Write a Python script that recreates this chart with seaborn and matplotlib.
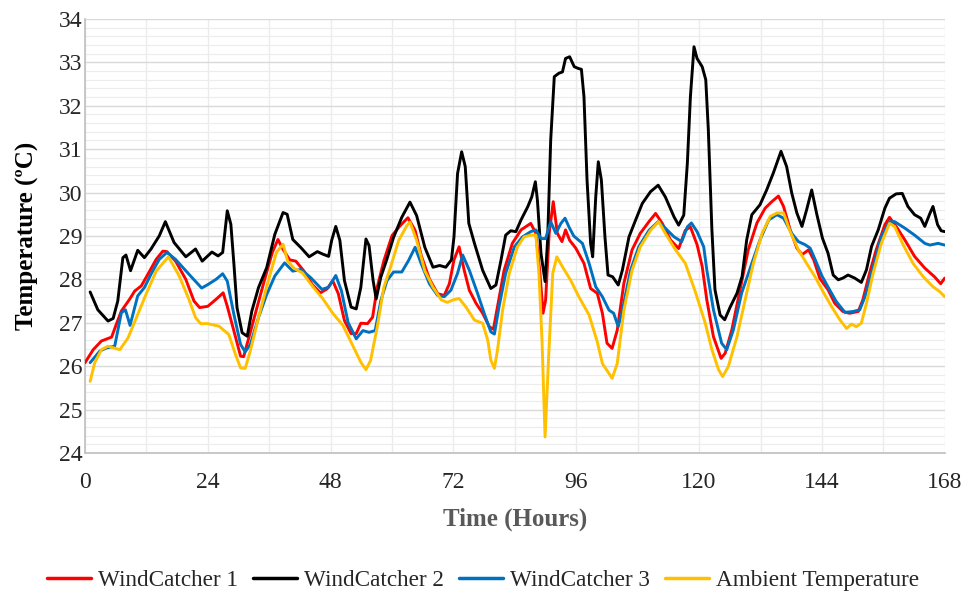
import numpy as np
import pandas as pd
import matplotlib
matplotlib.use("Agg")
import matplotlib.pyplot as plt
from matplotlib.lines import Line2D
import seaborn as sns

# Hourly temperature readings (hour, °C) for each monitored series
w1_hours = [0, 1.6, 3.2, 5.2, 6.1, 7.1, 8.7, 9.7, 11.0, 12.3, 13.9, 15.2, 16.0, 17.7, 19.7, 21.3,
            22.4, 24.0, 25.6, 27.0, 27.8, 29.1, 30.4, 31.0, 32.0, 33.6, 35.2, 36.6, 37.7, 38.7, 40.0,
            41.2, 42.8, 44.4, 46.0, 47.3, 48.4, 49.5, 50.7, 52.0, 53.0, 53.9, 55.2, 56.2, 57.1, 58.4,
            60.0, 61.6, 63.1, 64.5, 65.7, 67.3, 68.9, 70.2, 71.2, 72.1, 73.1, 74.1, 75.1, 76.4, 77.7,
            79.0, 79.8, 80.6, 81.9, 83.5, 85.2, 87.1, 88.1, 88.9, 89.5, 90.0, 90.7, 91.5, 92.3, 93.2,
            93.9, 94.7, 95.9, 97.5, 98.8, 100.1, 101.1, 102.0, 103.0, 104.0, 105.3, 106.9, 108.5,
            110.2, 111.5, 112.8, 114.4, 116.0, 117.3, 118.3, 119.6, 120.6, 121.5, 122.8, 124.3, 125.1,
            126.4, 128.0, 129.6, 131.3, 132.9, 134.2, 135.5, 136.5, 137.8, 139.1, 140.1, 141.4, 142.4,
            143.6, 145.2, 146.5, 148.1, 149.4, 151.1, 152.0, 153.3, 154.6, 156.3, 157.2, 158.5, 160.2,
            162.1, 164.1, 166.0, 167.2, 168]
w1_temp = [26.08, 26.38, 26.58, 26.67, 26.96, 27.27, 27.54, 27.73, 27.85, 28.12, 28.46, 28.65, 28.64,
           28.42, 28.00, 27.50, 27.35, 27.38, 27.54, 27.69, 27.38, 26.81, 26.23, 26.22, 26.65, 27.35,
           28.04, 28.62, 28.92, 28.69, 28.45, 28.42, 28.19, 27.88, 27.69, 27.78, 27.97, 27.67, 27.05,
           26.75, 26.75, 26.99, 26.98, 27.13, 27.82, 28.43, 29.01, 29.24, 29.42, 29.13, 28.55, 28.01,
           27.67, 27.63, 27.90, 28.45, 28.75, 28.21, 27.75, 27.45, 27.22, 26.91, 26.85, 27.37, 28.21,
           28.83, 29.14, 29.29, 29.06, 28.14, 27.22, 27.52, 29.06, 29.79, 29.06, 28.87, 29.14, 28.90,
           28.72, 28.37, 27.79, 27.68, 27.22, 26.53, 26.41, 26.83, 27.91, 28.68, 29.06, 29.33, 29.52,
           29.29, 28.91, 28.71, 29.13, 29.21, 28.80, 28.30, 27.53, 26.68, 26.18, 26.30, 26.84, 27.76,
           28.68, 29.30, 29.64, 29.79, 29.92, 29.68, 29.14, 28.72, 28.57, 28.68, 28.45, 28.02, 27.76,
           27.45, 27.26, 27.22, 27.26, 27.53, 28.14, 28.68, 29.26, 29.43, 29.22, 28.91, 28.53, 28.26,
           28.06, 27.90, 28.03]

w2_hours = [1.0, 2.5, 4.5, 5.5, 6.4, 7.4, 8.0, 8.9, 10.3, 11.6, 12.9, 14.5, 15.7, 17.4, 19.7, 21.6,
            22.9, 24.8, 26.0, 26.9, 27.8, 28.5, 29.1, 29.7, 30.7, 31.7, 32.6, 33.9, 35.5, 37.1, 38.7,
            39.5, 40.6, 42.2, 43.8, 45.4, 46.5, 47.6, 48.2, 49.0, 49.8, 50.7, 52.0, 53.0, 53.9, 54.9,
            55.5, 56.3, 56.9, 57.8, 59.0, 60.3, 61.9, 63.5, 64.8, 66.4, 68.0, 69.3, 70.5, 71.6, 72.1,
            72.8, 73.6, 74.3, 75.0, 76.1, 77.7, 79.3, 80.3, 81.3, 82.2, 83.2, 84.2, 85.2, 86.5, 87.3,
            88.0, 88.4, 89.1, 89.9, 90.4, 91.0, 91.7, 92.6, 93.3, 93.9, 94.7, 95.6, 96.4, 97.0, 97.5,
            98.1, 98.8, 99.2, 99.8, 100.3, 100.9, 101.6, 102.2, 103.1, 104.2, 105.0, 106.3, 107.6,
            108.9, 110.5, 112.0, 113.4, 115.1, 116.0, 117.0, 117.7, 118.3, 119.0, 119.6, 120.6, 121.3,
            121.8, 122.5, 123.1, 124.1, 125.0, 126.1, 127.4, 128.4, 129.3, 130.3, 131.9, 133.2, 134.5,
            136.0, 137.1, 138.1, 139.1, 140.1, 141.0, 142.0, 143.0, 144.1, 145.2, 146.2, 147.2, 148.1,
            149.1, 150.4, 151.7, 152.7, 153.7, 155.0, 156.3, 157.2, 158.5, 159.7, 160.8, 162.1, 163.3,
            164.1, 165.1, 165.7, 166.6, 167.3, 168]
w2_temp = [27.71, 27.30, 27.04, 27.10, 27.50, 28.50, 28.56, 28.20, 28.67, 28.50, 28.70, 29.00, 29.33,
           28.85, 28.52, 28.70, 28.42, 28.63, 28.54, 28.62, 29.58, 29.27, 28.35, 27.35, 26.77, 26.69,
           27.27, 27.81, 28.27, 29.04, 29.54, 29.50, 28.92, 28.73, 28.52, 28.64, 28.58, 28.53, 28.90,
           29.22, 28.90, 27.97, 27.36, 27.32, 27.82, 28.93, 28.78, 27.97, 27.55, 28.05, 28.47, 28.97,
           29.43, 29.78, 29.47, 28.74, 28.28, 28.32, 28.28, 28.45, 28.98, 30.44, 30.94, 30.60, 29.29,
           28.83, 28.21, 27.79, 27.87, 28.45, 29.02, 29.12, 29.10, 29.37, 29.67, 29.90, 30.25, 29.83,
           28.60, 27.95, 28.91, 31.21, 32.67, 32.75, 32.78, 33.09, 33.13, 32.90, 32.86, 32.84, 32.21,
           30.29, 28.83, 28.52, 29.90, 30.71, 30.29, 28.98, 28.10, 28.06, 27.87, 28.21, 28.98, 29.37,
           29.75, 30.02, 30.17, 29.90, 29.44, 29.25, 29.48, 30.67, 32.21, 33.36, 33.09, 32.90, 32.60,
           31.45, 29.14, 27.76, 27.18, 27.07, 27.37, 27.68, 28.07, 28.91, 29.49, 29.72, 30.06, 30.45,
           30.95, 30.60, 29.99, 29.53, 29.22, 29.60, 30.06, 29.50, 28.95, 28.60, 28.10, 27.99, 28.03,
           28.10, 28.03, 27.93, 28.22, 28.76, 29.14, 29.64, 29.87, 29.97, 29.98, 29.68, 29.49, 29.41,
           29.22, 29.52, 29.68, 29.26, 29.12, 29.10]

w3_hours = [1.0, 2.9, 4.2, 5.8, 7.1, 7.9, 8.8, 10.3, 11.6, 12.9, 14.5, 16.0, 17.7, 20.3, 22.8, 24.0,
            25.6, 26.9, 27.8, 29.1, 30.4, 31.3, 32.3, 33.9, 35.5, 37.1, 39.0, 40.6, 42.2, 44.1, 46.3,
            47.6, 49.0, 50.1, 51.4, 53.0, 54.3, 55.5, 56.7, 57.8, 59.0, 60.3, 61.9, 63.2, 64.5, 65.7,
            67.3, 68.9, 70.2, 71.5, 72.8, 73.8, 75.1, 76.7, 78.0, 79.3, 80.0, 80.9, 82.2, 83.9, 85.5,
            87.1, 88.1, 89.1, 90.0, 91.0, 92.0, 93.0, 93.8, 94.6, 95.5, 97.2, 98.5, 99.8, 101.1, 102.4,
            103.3, 104.2, 105.0, 106.6, 108.2, 110.2, 112.0, 113.4, 115.1, 116.6, 117.7, 118.5, 119.6,
            120.9, 121.5, 122.8, 124.4, 125.4, 126.7, 128.3, 130.3, 131.9, 133.6, 135.2, 136.5, 138.1,
            139.4, 140.7, 141.7, 142.7, 144.0, 145.5, 146.8, 148.5, 150.1, 151.4, 152.4, 154.0, 155.6,
            157.2, 158.2, 160.2, 162.1, 164.1, 165.1, 166.7, 168]
w3_temp = [26.08, 26.35, 26.42, 26.46, 27.23, 27.30, 26.94, 27.62, 27.81, 28.12, 28.46, 28.62, 28.46,
           28.12, 27.80, 27.88, 28.00, 28.13, 27.96, 27.19, 26.50, 26.33, 26.50, 27.12, 27.65, 28.08,
           28.38, 28.19, 28.23, 28.04, 27.77, 27.82, 28.09, 27.74, 27.01, 26.63, 26.82, 26.78, 26.82,
           27.51, 27.97, 28.17, 28.17, 28.43, 28.74, 28.36, 27.90, 27.63, 27.60, 27.75, 28.14, 28.56,
           28.21, 27.68, 27.22, 26.79, 26.74, 27.37, 28.14, 28.75, 28.98, 29.10, 29.14, 28.94, 28.94,
           29.33, 29.06, 29.29, 29.41, 29.20, 29.00, 28.83, 28.37, 27.83, 27.60, 27.29, 27.22, 26.91,
           27.29, 28.21, 28.75, 29.13, 29.33, 29.18, 28.98, 28.87, 29.21, 29.30, 29.10, 28.75, 28.22,
           27.30, 26.53, 26.38, 26.84, 27.68, 28.37, 28.91, 29.37, 29.49, 29.41, 29.06, 28.87, 28.80,
           28.72, 28.45, 28.08, 27.76, 27.49, 27.24, 27.26, 27.30, 27.60, 28.29, 28.99, 29.33, 29.33,
           29.18, 29.02, 28.83, 28.79, 28.83, 28.79]

amb_hours = [1.0, 1.9, 3.2, 4.5, 6.8, 8.4, 10.3, 11.9, 13.9, 16.3, 18.4, 20.3, 21.6, 22.6, 24.0, 26.2,
             28.1, 29.4, 30.4, 31.3, 32.3, 33.9, 35.8, 37.4, 38.7, 39.6, 40.9, 42.5, 44.4, 46.5, 48.4,
             50.4, 52.3, 53.9, 54.9, 55.8, 57.1, 58.4, 59.7, 61.3, 62.9, 63.5, 64.8, 66.4, 68.0, 69.6,
             70.8, 72.0, 73.1, 74.4, 76.1, 77.7, 78.7, 79.3, 80.0, 80.6, 81.6, 82.9, 84.5, 85.8, 87.1,
             88.1, 88.7, 89.3, 89.9, 90.6, 91.4, 92.2, 93.3, 94.9, 96.5, 98.5, 100.1, 101.1, 102.4,
             103.0, 104.0, 105.3, 106.9, 108.5, 110.5, 112.1, 113.4, 115.4, 117.3, 119.3, 121.2, 122.5,
             123.8, 124.6, 125.7, 127.4, 129.0, 130.6, 132.3, 133.9, 135.2, 136.5, 137.8, 139.4, 141.0,
             142.7, 144.2, 145.9, 147.5, 148.8, 149.8, 150.7, 151.7, 152.7, 154.0, 155.6, 157.2, 158.2,
             159.9, 161.8, 163.8, 165.7, 167.0, 168]
amb_temp = [25.65, 26.08, 26.38, 26.46, 26.38, 26.65, 27.19, 27.65, 28.19, 28.52, 28.08, 27.54, 27.12,
            26.98, 26.98, 26.92, 26.73, 26.27, 25.96, 25.95, 26.35, 27.12, 27.96, 28.62, 28.81, 28.42,
            28.25, 28.15, 27.85, 27.55, 27.22, 26.94, 26.48, 26.09, 25.92, 26.13, 26.90, 27.82, 28.28,
            28.90, 29.24, 29.32, 28.90, 28.20, 27.82, 27.53, 27.47, 27.53, 27.56, 27.37, 27.06, 26.99,
            26.60, 26.14, 25.95, 26.37, 27.29, 28.14, 28.75, 28.98, 29.02, 29.02, 28.14, 26.60, 24.37,
            26.22, 28.14, 28.52, 28.29, 27.98, 27.60, 27.18, 26.56, 26.06, 25.83, 25.72, 26.06, 27.29,
            28.21, 28.75, 29.13, 29.33, 29.06, 28.68, 28.37, 27.70, 26.99, 26.38, 25.92, 25.76, 25.99,
            26.68, 27.53, 28.37, 29.06, 29.45, 29.53, 29.53, 29.10, 28.68, 28.37, 28.05, 27.72, 27.37,
            27.07, 26.87, 26.97, 26.91, 26.99, 27.45, 28.14, 28.83, 29.29, 29.22, 28.79, 28.37, 28.06,
            27.83, 27.72, 27.60]

series_names = ["WindCatcher 1", "WindCatcher 2", "WindCatcher 3", "Ambient Temperature"]
series_colors = ["#FF0000", "#000000", "#0070C0", "#FFC000"]
x_ticks = [0, 24, 48, 72, 96, 120, 144, 168]
y_ticks = list(range(24, 35))

frames = []
for name, hrs, vals in zip(series_names,
                           [w1_hours, w2_hours, w3_hours, amb_hours],
                           [w1_temp, w2_temp, w3_temp, amb_temp]):
    frames.append(pd.DataFrame({"Hour": hrs, "Temp": vals, "Series": name}))
df = pd.concat(frames, ignore_index=True)

sns.set_theme(style="white")
plt.rcParams["font.family"] = ["Liberation Serif", "DejaVu Serif"]

fig = plt.figure(figsize=(9.66, 5.95), dpi=100)
ax = fig.add_axes([0.088, 0.2387, 0.890, 0.7294])

sns.lineplot(data=df, x="Hour", y="Temp", hue="Series", hue_order=series_names,
             palette=series_colors, estimator=None, sort=False, linewidth=2.1,
             legend=False, ax=ax, zorder=3)
for line in ax.get_lines():
    line.set_solid_joinstyle("round")
    line.set_solid_capstyle("round")

ax.set_xlim(0, 168)
ax.set_ylim(24, 34)
ax.set_xticks(x_ticks)
ax.set_xticks(np.arange(12, 168, 24), minor=True)
ax.set_yticks(y_ticks)
ax.set_yticks(np.arange(24, 34.01, 0.2), minor=True)

ax.grid(which="major", axis="y", color="#D9D9D9", linewidth=1.0, zorder=0)
ax.grid(which="minor", axis="y", color="#ECECEC", linewidth=0.8, zorder=0)
ax.grid(which="both", axis="x", color="#EBEBEB", linewidth=1.0, zorder=0)
ax.set_axisbelow(True)

for side in ("top", "right"):
    ax.spines[side].set_visible(False)
for side in ("left", "bottom"):
    ax.spines[side].set_color("#BFBFBF")
    ax.spines[side].set_linewidth(1.2)

ax.tick_params(axis="both", which="both", length=0, labelsize=17, colors="#262626")
ax.tick_params(axis="x", pad=14)
ax.tick_params(axis="y", pad=2)

ax.set_xlabel("Time (Hours)", fontsize=18, fontweight="bold", color="#595959", labelpad=10)
ax.set_ylabel("Temperature (ºC)", fontsize=18, fontweight="bold", color="#000000", labelpad=14)

handles = [Line2D([0], [0], color=c, linewidth=2.5) for c in series_colors]
fig.legend(handles, series_names, loc="center", bbox_to_anchor=(0.5, 0.025),
           ncol=4, frameon=False, fontsize=16.7, handlelength=1.9, handletextpad=0.3,
           columnspacing=0.65, labelcolor="#262626")

fig.savefig("out.png", dpi=100)
